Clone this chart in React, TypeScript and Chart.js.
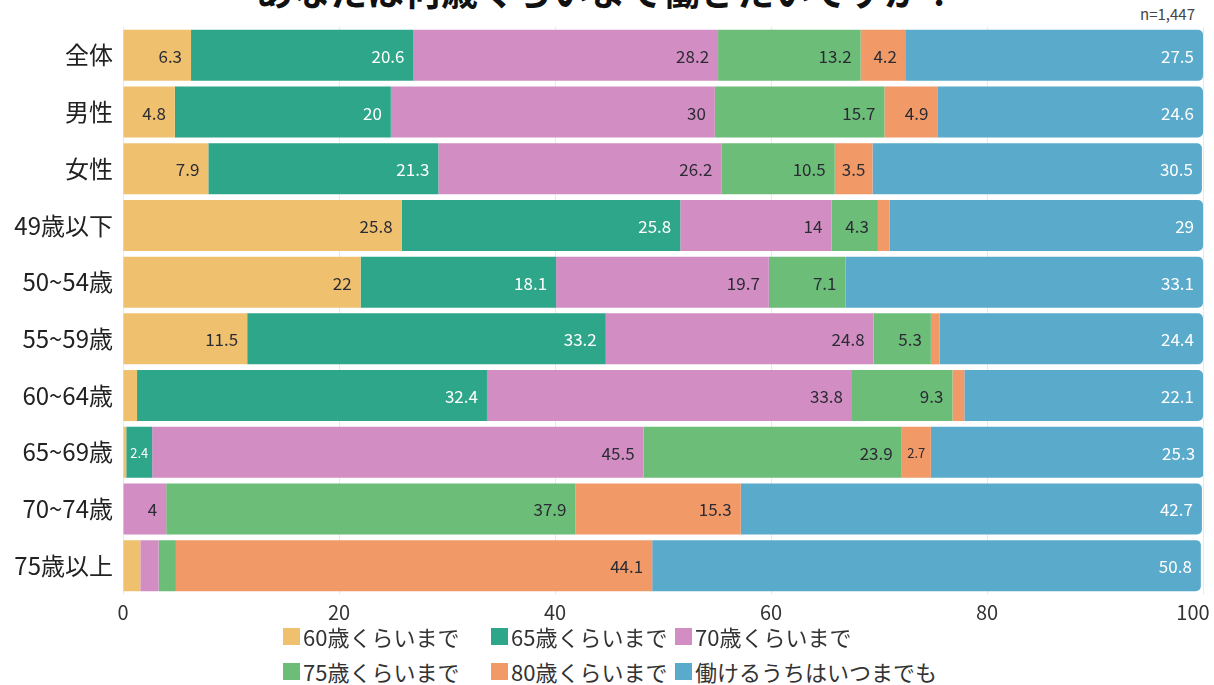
import React, { useEffect, useRef } from 'react';
import { Chart, registerables } from 'chart.js';

Chart.register(...registerables);

const categories = ['全体', '男性', '女性', '49歳以下', '50~54歳', '55~59歳', '60~64歳', '65~69歳', '70~74歳', '75歳以上'];
const seriesNames = ['60歳くらいまで', '65歳くらいまで', '70歳くらいまで', '75歳くらいまで', '80歳くらいまで', '働けるうちはいつまでも'];
const s60 = [6.3, 4.8, 7.9, 25.8, 22, 11.5, 1.3, 0.3, 0, 1.6];
const s65 = [20.6, 20, 21.3, 25.8, 18.1, 33.2, 32.4, 2.4, 0, 0];
const s70 = [28.2, 30, 26.2, 14, 19.7, 24.8, 33.8, 45.5, 4, 1.7];
const s75 = [13.2, 15.7, 10.5, 4.3, 7.1, 5.3, 9.3, 23.9, 37.9, 1.6];
const s80 = [4.2, 4.9, 3.5, 1.1, 0, 0.8, 1.1, 2.7, 15.3, 44.1];
const sAny = [27.5, 24.6, 30.5, 29, 33.1, 24.4, 22.1, 25.3, 42.7, 50.8];
const seriesValues = [s60, s65, s70, s75, s80, sAny];
const xMin = 0;
const xMax = 100;
const xStep = 20;
const titleText = 'あなたは何歳くらいまで働きたいですか？';
const sampleText = 'n=1,447';

const colors = ['#EFC16F', '#2EA68A', '#D28EC3', '#6BBD78', '#F29A67', '#5AAACB'];
const labelColors = ['#2b2b35', '#ffffff', '#2b2b35', '#2b2b35', '#2b2b35', '#ffffff'];
const FONT = '"Noto Sans CJK JP", "Noto Sans", sans-serif';

const valueLabelPlugin = {
  id: 'valueLabels',
  afterDatasetsDraw(chart: any) {
    const ctx = chart.ctx;
    ctx.save();
    ctx.textBaseline = 'middle';
    chart.data.datasets.forEach((ds: any, i: number) => {
      const meta = chart.getDatasetMeta(i);
      if (meta.hidden) return;
      meta.data.forEach((el: any, j: number) => {
        const v = ds.data[j];
        if (v == null || v < 2) return;
        const txt = String(v);
        const end = Math.max(el.x, el.base);
        const start = Math.min(el.x, el.base);
        const w = end - start;
        ctx.fillStyle = labelColors[i];
        ctx.font = `17px ${FONT}`;
        const tw = ctx.measureText(txt).width;
        if (w >= tw + 6) {
          const pad = Math.min(9, (w - tw) / 2);
          ctx.textAlign = 'right';
          ctx.fillText(txt, end - pad, el.y + 1);
        } else {
          ctx.font = `13px ${FONT}`;
          ctx.textAlign = 'center';
          ctx.fillText(txt, (start + end) / 2, el.y + 1);
        }
      });
    });
    ctx.restore();
  },
};

export default function App() {
  const ref = useRef<HTMLCanvasElement | null>(null);

  useEffect(() => {
    if (!ref.current) return;
    const chart = new Chart(ref.current, {
      type: 'bar',
      data: {
        labels: categories,
        datasets: seriesValues.map((vals, i) => ({
          label: seriesNames[i],
          data: vals,
          backgroundColor: colors[i],
          borderWidth: 0,
          borderRadius: i === seriesValues.length - 1 ? { topLeft: 0, bottomLeft: 0, topRight: 5, bottomRight: 5 } : 0,
          barPercentage: 0.9,
          categoryPercentage: 1,
        })),
      },
      options: {
        indexAxis: 'y',
        responsive: false,
        animation: false,
        layout: { padding: { top: 27, right: 11, left: 0, bottom: 0 } },
        plugins: {
          legend: { display: false },
          title: { display: false },
          tooltip: { enabled: false },
        },
        scales: {
          x: {
            stacked: true,
            min: xMin,
            max: xMax,
            ticks: {
              stepSize: xStep,
              padding: 6,
              color: '#333',
              font: { family: FONT, size: 20 },
              callback: (v: any) => (v === xMax ? `${v}\u2003` : `${v}`),
            },
            grid: { color: '#e9e9e9', drawTicks: false },
            border: { display: false },
            afterFit: (scale: any) => {
              scale.paddingRight = 0;
            },
          },
          y: {
            stacked: true,
            ticks: {
              padding: 10,
              color: '#222',
              font: { family: FONT, size: 24 },
            },
            grid: { display: false, drawTicks: false },
            border: { display: false },
            afterFit: (scale: any) => {
              scale.width = 123;
            },
          },
        },
      },
      plugins: [valueLabelPlugin],
    } as any);
    return () => chart.destroy();
  }, []);

  const legendLefts = [283, 491, 675];
  const legendTops = [636, 671];

  return (
    <div style={{ position: 'absolute', left: 0, top: 0, width: 1214, height: 685, overflow: 'hidden', background: '#fff', fontFamily: FONT }}>
      <div style={{ position: 'absolute', left: 0, top: -28, width: 1214, textAlign: 'center', fontSize: 37, fontWeight: 700, lineHeight: '37px', color: '#111', whiteSpace: 'nowrap' }}>
        {titleText}
      </div>
      <div style={{ position: 'absolute', right: 19, top: 5, fontSize: 15, lineHeight: '18px', color: '#444' }}>{sampleText}</div>
      <canvas ref={ref} width={1214} height={630} style={{ position: 'absolute', left: 0, top: 0, width: 1214, height: 630 }} />
      {seriesNames.map((name, i) => (
        <div
          key={name}
          style={{
            position: 'absolute',
            left: legendLefts[i % 3],
            top: legendTops[Math.floor(i / 3)] - 15,
            height: 30,
            display: 'flex',
            alignItems: 'center',
            whiteSpace: 'nowrap',
            fontSize: 22,
            color: '#333',
          }}
        >
          <span style={{ display: 'inline-block', width: 17, height: 17, background: colors[i], marginRight: 3 }} />
          <span>{name}</span>
        </div>
      ))}
    </div>
  );
}
